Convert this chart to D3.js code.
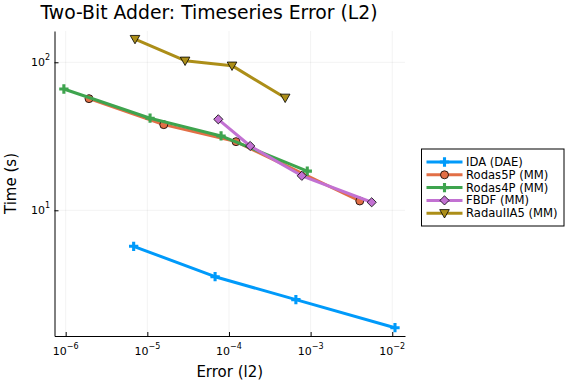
<!DOCTYPE html>
<html>
<head>
<meta charset="utf-8">
<script src="https://cdn.jsdelivr.net/npm/d3@7"></script>
<style>
  html, body { margin: 0; padding: 0; background: #fff; }
  svg { display: block; font-family: "DejaVu Sans", sans-serif; }
</style>
</head>
<body>
<svg id="chart" width="576" height="384"></svg>
<script>
// series data (error, time)
const seriesNames = ['IDA (DAE)', 'Rodas5P (MM)', 'Rodas4P (MM)', 'FBDF (MM)', 'RadauIIA5 (MM)'];
const idaErr = [6.8e-6, 6.76e-5, 6.6e-4, 1.08e-2];
const idaTime = [5.71, 3.56, 2.49, 1.61];
const rodas5pErr = [1.93e-6, 1.59e-5, 1.22e-4, 4.0e-3];
const rodas5pTime = [56.8, 37.9, 29.1, 11.56];
const rodas4pErr = [9.5e-7, 1.08e-5, 8.0e-5, 9.1e-4];
const rodas4pTime = [66.0, 41.9, 31.8, 18.4];
const fbdfErr = [7.4e-5, 1.82e-4, 7.8e-4, 5.6e-3];
const fbdfTime = [41.2, 27.2, 17.1, 11.33];
const radauErr = [7.06e-6, 2.9e-5, 1.09e-4, 4.88e-4];
const radauTime = [143.6, 102.5, 94.9, 57.6];
const xTickExps = [-6, -5, -4, -3, -2];
const yTickExps = [1, 2];

const colors = ['#009AFA', '#E26F46', '#3EA44E', '#C271D2', '#AC8E18'];
const shapes = ['cross', 'circle', 'cross', 'diamond', 'dtriangle'];
const errs = [idaErr, rodas5pErr, rodas4pErr, fbdfErr, radauErr];
const times = [idaTime, rodas5pTime, rodas4pTime, fbdfTime, radauTime];

const series = seriesNames.map((name, i) => ({
  name, color: colors[i], shape: shapes[i],
  pts: errs[i].map((e, j) => ({ x: e, y: times[i][j] }))
}));

const svg = d3.select('#chart');
const L = 54.5, R = 405, T = 31, B = 336;

const x = d3.scaleLog().domain([Math.pow(10, -6.137), Math.pow(10, -1.844)]).range([L, R]);
const y = d3.scaleLog().domain([1.415, 162.7]).range([B, T]);

// grid
const grid = svg.append('g').attr('class', 'grid');
xTickExps.forEach(e => {
  grid.append('line')
    .attr('x1', x(Math.pow(10, e))).attr('x2', x(Math.pow(10, e)))
    .attr('y1', T).attr('y2', B)
    .attr('stroke', '#000').attr('stroke-opacity', 0.1).attr('stroke-width', 0.5);
});
yTickExps.forEach(e => {
  grid.append('line')
    .attr('x1', L).attr('x2', R)
    .attr('y1', y(Math.pow(10, e))).attr('y2', y(Math.pow(10, e)))
    .attr('stroke', '#000').attr('stroke-opacity', 0.1).attr('stroke-width', 0.5);
});

// axes
const xAxis = svg.append('g').attr('transform', `translate(0,${B})`)
  .call(d3.axisBottom(x).tickValues(xTickExps.map(e => Math.pow(10, e)))
    .tickFormat('').tickSizeInner(-4).tickSizeOuter(0));
const yAxis = svg.append('g').attr('transform', `translate(${L},0)`)
  .call(d3.axisLeft(y).tickValues(yTickExps.map(e => Math.pow(10, e)))
    .tickFormat('').tickSizeInner(-4).tickSizeOuter(0));
[xAxis, yAxis].forEach(a => {
  a.select('.domain').attr('stroke', '#000').attr('stroke-width', 1);
  a.selectAll('.tick line').attr('stroke', '#000').attr('stroke-width', 1);
});

// tick labels with superscripts
xTickExps.forEach(e => {
  const t = svg.append('text')
    .attr('x', x(Math.pow(10, e))).attr('y', 355)
    .attr('text-anchor', 'middle').attr('font-size', 11).attr('fill', '#000');
  t.append('tspan').text('10');
  t.append('tspan').attr('dy', -6).attr('font-size', 8).text('\u2212' + Math.abs(e));
});
yTickExps.forEach(e => {
  const t = svg.append('text')
    .attr('x', 50).attr('y', y(Math.pow(10, e)) + 4)
    .attr('text-anchor', 'end').attr('font-size', 11).attr('fill', '#000');
  t.append('tspan').text('10');
  t.append('tspan').attr('dy', -6).attr('font-size', 8).text(String(e));
});

// titles
svg.append('text').attr('x', 209).attr('y', 19).attr('text-anchor', 'middle')
  .attr('font-size', 18.8).attr('fill', '#000').text('Two-Bit Adder: Timeseries Error (L2)');
svg.append('text').attr('x', (L + R) / 2).attr('y', 377).attr('text-anchor', 'middle')
  .attr('font-size', 15).attr('fill', '#000').text('Error (l2)');
svg.append('text').attr('transform', `translate(16,${(T + B) / 2}) rotate(-90)`)
  .attr('text-anchor', 'middle').attr('font-size', 15).attr('fill', '#000').text('Time (s)');

function drawMarker(g, shape, color, cx, cy) {
  if (shape === 'cross') {
    g.append('path').attr('d', d3.symbol(d3.symbolCross, 48)())
      .attr('transform', `translate(${cx},${cy})`).attr('fill', color);
  } else if (shape === 'circle') {
    g.append('circle').attr('cx', cx).attr('cy', cy).attr('r', 4)
      .attr('fill', color).attr('stroke', '#000').attr('stroke-width', 0.8);
  } else if (shape === 'diamond') {
    g.append('path').attr('d', 'M0,-4.6L4.6,0L0,4.6L-4.6,0Z')
      .attr('transform', `translate(${cx},${cy})`)
      .attr('fill', color).attr('stroke', '#000').attr('stroke-width', 0.8);
  } else {
    g.append('path').attr('d', 'M-4.8,-3.6L4.8,-3.6L0,4.8Z')
      .attr('transform', `translate(${cx},${cy})`)
      .attr('fill', color).attr('stroke', '#000').attr('stroke-width', 0.8);
  }
}

// series
const line = d3.line().x(d => x(d.x)).y(d => y(d.y));
const plot = svg.append('g').attr('class', 'series');
series.forEach(s => {
  const g = plot.append('g');
  g.append('path').datum(s.pts).attr('d', line)
    .attr('fill', 'none').attr('stroke', s.color).attr('stroke-width', 3)
    .attr('stroke-linejoin', 'round');
  s.pts.forEach(p => drawMarker(g, s.shape, s.color, x(p.x), y(p.y)));
});

// legend
const lg = svg.append('g').attr('class', 'legend');
lg.append('rect').attr('x', 421.5).attr('y', 149).attr('width', 142.5).attr('height', 77)
  .attr('fill', '#fff').attr('stroke', '#000').attr('stroke-width', 1);
series.forEach((s, i) => {
  const ly = 162 + i * 12.8;
  lg.append('line').attr('x1', 426.5).attr('x2', 462.5).attr('y1', ly).attr('y2', ly)
    .attr('stroke', s.color).attr('stroke-width', 3);
  drawMarker(lg, s.shape, s.color, 444.5, ly);
  lg.append('text').attr('x', 466).attr('y', ly + 4).attr('font-size', 11.6)
    .attr('fill', '#000').text(s.name);
});
</script>
</body>
</html>
